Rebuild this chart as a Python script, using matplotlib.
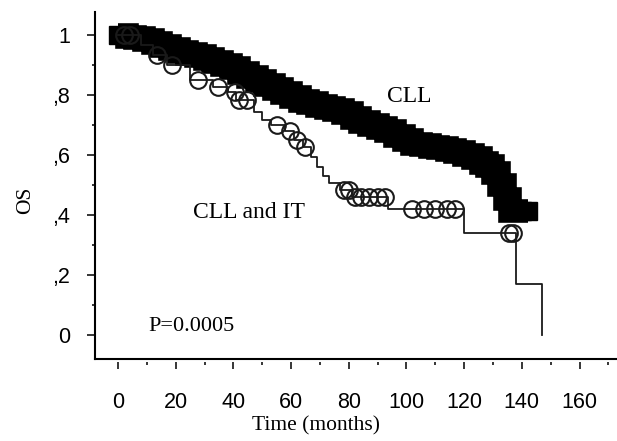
import numpy as np
import matplotlib
matplotlib.use("Agg")
import matplotlib.pyplot as plt
from matplotlib.ticker import MultipleLocator, FixedLocator, FixedFormatter

# CLL curve (months, overall survival), every point carries a censor square
cll_time = [0, 3, 6, 9, 12, 15, 18, 21, 24, 27, 30, 33, 36, 39, 42, 45, 48, 51,
            54, 57, 60, 63, 66, 69, 72, 75, 78, 81, 84, 87, 90, 93, 96, 99, 102,
            105, 108, 111, 114, 117, 120, 123, 126, 128, 130, 132, 134, 136, 138,
            140, 142]
cll_surv = [1.0, 0.995, 0.99, 0.983, 0.975, 0.965, 0.955, 0.945, 0.937, 0.93,
            0.92, 0.91, 0.90, 0.89, 0.875, 0.86, 0.848, 0.835, 0.82, 0.808,
            0.795, 0.78, 0.772, 0.765, 0.757, 0.75, 0.74, 0.725, 0.71, 0.70,
            0.69, 0.68, 0.665, 0.65, 0.638, 0.632, 0.627, 0.622, 0.617, 0.61,
            0.60, 0.59, 0.575, 0.565, 0.54, 0.50, 0.455, 0.415, 0.415, 0.415,
            0.415]

# CLL and IT curve: event steps and censored times
it_time = [0, 8, 12, 17, 25, 33, 38, 41, 47, 50, 53, 58, 61, 64, 67, 69, 71,
           73, 77, 81, 93.5, 120, 138, 147]
it_surv = [1.0, 0.967, 0.933, 0.90, 0.85, 0.827, 0.81, 0.785, 0.745, 0.717,
           0.70, 0.68, 0.65, 0.627, 0.595, 0.56, 0.53, 0.507, 0.483, 0.46,
           0.42, 0.34, 0.17, 0.0]
it_cens = [2, 4, 13.5, 18.7, 27.7, 34.6, 40.5, 42, 44.6, 55, 59.5, 62, 64.7,
           78.5, 80, 82, 84.4, 87, 90, 92.5, 102, 106, 110, 114, 117, 135.6, 137]

ytick_vals = [0, 0.2, 0.4, 0.6, 0.8, 1.0]
ytick_text = ["0", ",2", ",4", ",6", ",8", "1"]
xtick_vals = [0, 20, 40, 60, 80, 100, 120, 140, 160]


def main():
    fig = plt.figure(figsize=(6.17, 4.41), dpi=100)
    ax = fig.add_axes([95 / 617, 82 / 441, 1 - 95 / 617, 347 / 441])

    # CLL: thick step line + dense censor squares (forms the black band)
    ax.plot(cll_time, cll_surv, drawstyle="steps-post", color="black", lw=17,
            solid_joinstyle="miter", solid_capstyle="butt")
    ax.plot(cll_time, cll_surv, ls="none", marker="s", ms=13,
            mfc="black", mec="black", mew=1.0)

    # CLL and IT: step line + hollow circles at censored times
    ax.plot(it_time, it_surv, drawstyle="steps-post", color="#1a1a1a", lw=1.3)
    idx = np.searchsorted(it_time, it_cens, side="right") - 1
    cens_y = np.array(it_surv)[idx]
    ax.plot(it_cens, cens_y, ls="none", marker="o", ms=12,
            mfc="none", mec="#1a1a1a", mew=1.5)

    ax.set_xlim(-8, 173)
    ax.set_ylim(-0.08, 1.077)

    ax.yaxis.set_major_locator(FixedLocator(ytick_vals))
    ax.yaxis.set_major_formatter(FixedFormatter(ytick_text))
    ax.yaxis.set_minor_locator(MultipleLocator(0.1))
    ax.xaxis.set_major_locator(FixedLocator(xtick_vals))
    ax.xaxis.set_minor_locator(MultipleLocator(10))

    for s in ["top", "right"]:
        ax.spines[s].set_visible(False)
    ax.spines["left"].set_linewidth(1.5)
    # ticks on x sit a little below the axis line
    ax.spines["bottom"].set_position(("outward", 2.5))
    ax.spines["bottom"].set_visible(False)
    ax.plot([0, 1], [0, 0], transform=ax.transAxes, color="black", lw=1.5,
            clip_on=False, solid_capstyle="projecting")

    ax.tick_params(axis="y", which="major", direction="out", length=6,
                   width=1.1, pad=12, labelsize=15.5)
    ax.tick_params(axis="y", which="minor", direction="out", length=2.5,
                   width=1.1)
    ax.tick_params(axis="x", which="major", direction="out", length=5,
                   width=1.1, pad=16, labelsize=15.5)
    ax.tick_params(axis="x", which="minor", direction="out", length=2,
                   width=1.1)
    for lab in ax.get_xticklabels() + ax.get_yticklabels():
        lab.set_fontfamily("Liberation Sans")

    serif = "Liberation Serif"
    ax.set_xlabel("Time (months)", fontfamily=serif, fontsize=15.5)
    ax.set_ylabel("OS", fontfamily=serif, fontsize=15.5)
    ax.xaxis.set_label_coords((316 - 95) / 522, -(426 - 359) / 347)
    ax.yaxis.set_label_coords(-(95 - 26) / 522, (359 - 200) / 347)
    ax.xaxis.label.set_va("center")
    ax.yaxis.label.set_va("center")

    ax.text(101, 0.795, "CLL", fontfamily=serif, fontsize=17,
            ha="center", va="center")
    ax.text(45.3, 0.41, "CLL and IT", fontfamily=serif, fontsize=17,
            ha="center", va="center")
    ax.text(25.5, 0.03, "P=0.0005", fontfamily=serif, fontsize=16,
            ha="center", va="center")

    fig.savefig("out.png", dpi=100)


if __name__ == "__main__":
    main()
